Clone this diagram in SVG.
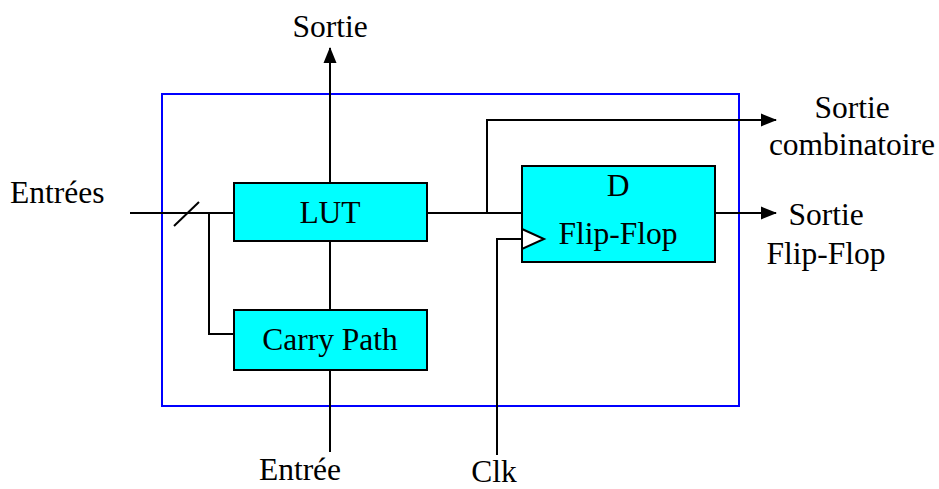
<svg xmlns="http://www.w3.org/2000/svg" width="939" height="489" viewBox="0 0 939 489">
<style>
.t{font-family:"Liberation Serif","Times New Roman",serif;font-size:31.5px;fill:#000}
.m{text-anchor:middle}
.box{fill:#00ffff;stroke:#000;stroke-width:2}
.w{fill:none;stroke:#000;stroke-width:2}
</style>
<defs>
<marker id="ahv" markerWidth="16" markerHeight="16" refX="15" refY="8" orient="auto" markerUnits="userSpaceOnUse" viewBox="0 0 16 16">
<path d="M0,1.5 L16,8 L0,14.5 Z" fill="#000"/>
</marker>
</defs>
<rect id="fpga" x="162" y="94" width="577" height="312" fill="none" stroke="#0000ff" stroke-width="2"/>
<g id="connectors">
<path class="w" d="M330,183 V48" marker-end="url(#ahv)"/>
<path class="w" d="M130,213 H234"/>
<path class="w" d="M174,226 L199,202"/>
<path class="w" d="M209,213 V334 H234"/>
<path class="w" d="M330,241 V310"/>
<path class="w" d="M330,370 V452"/>
<path class="w" d="M427,213 H522"/>
<path class="w" d="M487,213 V120 H776" marker-end="url(#ahv)"/>
<path class="w" d="M715,213 H776" marker-end="url(#ahv)"/>
<path class="w" d="M497,455 V239 H522"/>
</g>
<g id="lut">
<rect class="box" x="234" y="183" width="193" height="58"/>
<text class="t m" x="330" y="223">LUT</text>
</g>
<g id="carry">
<rect class="box" x="234" y="310" width="193" height="60"/>
<text class="t m" x="330" y="350">Carry Path</text>
</g>
<g id="ff">
<rect class="box" x="522" y="166" width="193" height="96"/>
<path d="M522,229 L544,239 L522,249 Z" fill="#fff" stroke="#000" stroke-width="2"/>
<text class="t m" x="618" y="196">D</text>
<text class="t m" x="618" y="244">Flip-Flop</text>
</g>
<g id="labels">
<text class="t m" x="330" y="37">Sortie</text>
<text class="t" x="10" y="203">Entrées</text>
<text class="t m" x="852" y="118">Sortie</text>
<text class="t m" x="852" y="155">combinatoire</text>
<text class="t m" x="826" y="225">Sortie</text>
<text class="t m" x="826" y="264">Flip-Flop</text>
<text class="t m" x="300" y="480">Entrée</text>
<text class="t m" x="494" y="482">Clk</text>
</g>
</svg>
